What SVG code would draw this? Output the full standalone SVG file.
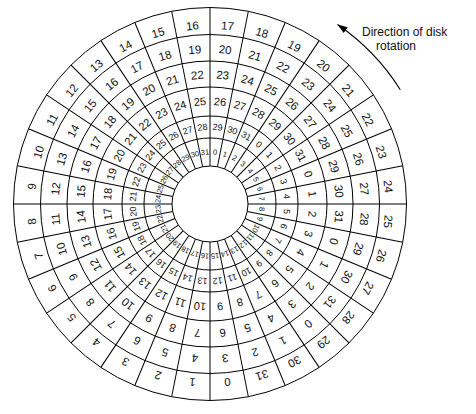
<svg xmlns="http://www.w3.org/2000/svg" width="476" height="414" viewBox="0 0 476 414">
<defs>
<style>
.ring{fill:none;stroke:#000;stroke-width:1}
.rad{stroke:#000;stroke-width:1}
text{font-family:"Liberation Sans",Arial,sans-serif;fill:#111;text-anchor:middle;dominant-baseline:central}
.a{font-size:11.5px}
.b{font-size:11px}
.c{font-size:9px}
.d{font-size:7.5px}
.lbl{font-size:12px;text-anchor:start;dominant-baseline:auto}
</style>
<marker id="ah" markerUnits="userSpaceOnUse" markerWidth="11" markerHeight="8" refX="10" refY="3.5" orient="auto">
<path d="M0,0 L10,3.5 L0,7 z" fill="#000"/>
</marker>
</defs>
<rect width="476" height="414" fill="#fff"/>
<g id="platter">
<circle class="ring" cx="210" cy="204" r="196.5" stroke-width="1.2"/>
<circle class="ring" cx="210" cy="204" r="169.5"/>
<circle class="ring" cx="210" cy="204" r="143"/>
<circle class="ring" cx="210" cy="204" r="117"/>
<circle class="ring" cx="210" cy="204" r="88"/>
<circle class="ring" cx="210" cy="204" r="66"/>
<circle class="ring" cx="210" cy="204" r="38"/>
</g>
<g id="connectors">
<line class="rad" x1="210" y1="166" x2="210" y2="7.5" transform="rotate(0 210 204)"/>
<line class="rad" x1="210" y1="166" x2="210" y2="7.5" transform="rotate(11.25 210 204)"/>
<line class="rad" x1="210" y1="166" x2="210" y2="7.5" transform="rotate(22.5 210 204)"/>
<line class="rad" x1="210" y1="166" x2="210" y2="7.5" transform="rotate(33.75 210 204)"/>
<line class="rad" x1="210" y1="166" x2="210" y2="7.5" transform="rotate(45 210 204)"/>
<line class="rad" x1="210" y1="166" x2="210" y2="7.5" transform="rotate(56.25 210 204)"/>
<line class="rad" x1="210" y1="166" x2="210" y2="7.5" transform="rotate(67.5 210 204)"/>
<line class="rad" x1="210" y1="166" x2="210" y2="7.5" transform="rotate(78.75 210 204)"/>
<line class="rad" x1="210" y1="166" x2="210" y2="7.5" transform="rotate(90 210 204)"/>
<line class="rad" x1="210" y1="166" x2="210" y2="7.5" transform="rotate(101.25 210 204)"/>
<line class="rad" x1="210" y1="166" x2="210" y2="7.5" transform="rotate(112.5 210 204)"/>
<line class="rad" x1="210" y1="166" x2="210" y2="7.5" transform="rotate(123.75 210 204)"/>
<line class="rad" x1="210" y1="166" x2="210" y2="7.5" transform="rotate(135 210 204)"/>
<line class="rad" x1="210" y1="166" x2="210" y2="7.5" transform="rotate(146.25 210 204)"/>
<line class="rad" x1="210" y1="166" x2="210" y2="7.5" transform="rotate(157.5 210 204)"/>
<line class="rad" x1="210" y1="166" x2="210" y2="7.5" transform="rotate(168.75 210 204)"/>
<line class="rad" x1="210" y1="166" x2="210" y2="7.5" transform="rotate(180 210 204)"/>
<line class="rad" x1="210" y1="166" x2="210" y2="7.5" transform="rotate(191.25 210 204)"/>
<line class="rad" x1="210" y1="166" x2="210" y2="7.5" transform="rotate(202.5 210 204)"/>
<line class="rad" x1="210" y1="166" x2="210" y2="7.5" transform="rotate(213.75 210 204)"/>
<line class="rad" x1="210" y1="166" x2="210" y2="7.5" transform="rotate(225 210 204)"/>
<line class="rad" x1="210" y1="166" x2="210" y2="7.5" transform="rotate(236.25 210 204)"/>
<line class="rad" x1="210" y1="166" x2="210" y2="7.5" transform="rotate(247.5 210 204)"/>
<line class="rad" x1="210" y1="166" x2="210" y2="7.5" transform="rotate(258.75 210 204)"/>
<line class="rad" x1="210" y1="166" x2="210" y2="7.5" transform="rotate(270 210 204)"/>
<line class="rad" x1="210" y1="166" x2="210" y2="7.5" transform="rotate(281.25 210 204)"/>
<line class="rad" x1="210" y1="166" x2="210" y2="7.5" transform="rotate(292.5 210 204)"/>
<line class="rad" x1="210" y1="166" x2="210" y2="7.5" transform="rotate(303.75 210 204)"/>
<line class="rad" x1="210" y1="166" x2="210" y2="7.5" transform="rotate(315 210 204)"/>
<line class="rad" x1="210" y1="166" x2="210" y2="7.5" transform="rotate(326.25 210 204)"/>
<line class="rad" x1="210" y1="166" x2="210" y2="7.5" transform="rotate(337.5 210 204)"/>
<line class="rad" x1="210" y1="166" x2="210" y2="7.5" transform="rotate(348.75 210 204)"/>
<path id="rotation-arrow" d="M400.3,89.7 A222,222 0 0 0 337.5,24.5" fill="none" stroke="#000" stroke-width="1.1" marker-end="url(#ah)"/>
</g>
<g id="sectors">
<g transform="rotate(5.625 210 204)"><text class="a" x="210" y="25">17</text><text class="a" x="210" y="49">20</text><text class="a" x="210" y="74.5">23</text><text class="b" x="210" y="101">26</text><text class="c" x="210" y="127">29</text><text class="d" x="210" y="152">0</text></g>
<g transform="rotate(16.875 210 204)"><text class="a" x="210" y="25">18</text><text class="a" x="210" y="49">21</text><text class="a" x="210" y="74.5">24</text><text class="b" x="210" y="101">27</text><text class="c" x="210" y="127">30</text><text class="d" x="210" y="152">1</text></g>
<g transform="rotate(28.125 210 204)"><text class="a" x="210" y="25">19</text><text class="a" x="210" y="49">22</text><text class="a" x="210" y="74.5">25</text><text class="b" x="210" y="101">28</text><text class="c" x="210" y="127">31</text><text class="d" x="210" y="152">2</text></g>
<g transform="rotate(39.375 210 204)"><text class="a" x="210" y="25">20</text><text class="a" x="210" y="49">23</text><text class="a" x="210" y="74.5">26</text><text class="b" x="210" y="101">29</text><text class="c" x="210" y="127">0</text><text class="d" x="210" y="152">3</text></g>
<g transform="rotate(50.625 210 204)"><text class="a" x="210" y="25">21</text><text class="a" x="210" y="49">24</text><text class="a" x="210" y="74.5">27</text><text class="b" x="210" y="101">30</text><text class="c" x="210" y="127">1</text><text class="d" x="210" y="152">4</text></g>
<g transform="rotate(61.875 210 204)"><text class="a" x="210" y="25">22</text><text class="a" x="210" y="49">25</text><text class="a" x="210" y="74.5">28</text><text class="b" x="210" y="101">31</text><text class="c" x="210" y="127">2</text><text class="d" x="210" y="152">5</text></g>
<g transform="rotate(73.125 210 204)"><text class="a" x="210" y="25">23</text><text class="a" x="210" y="49">26</text><text class="a" x="210" y="74.5">29</text><text class="b" x="210" y="101">0</text><text class="c" x="210" y="127">3</text><text class="d" x="210" y="152">6</text></g>
<g transform="rotate(84.375 210 204)"><text class="a" x="210" y="25">24</text><text class="a" x="210" y="49">27</text><text class="a" x="210" y="74.5">30</text><text class="b" x="210" y="101">1</text><text class="c" x="210" y="127">4</text><text class="d" x="210" y="152">7</text></g>
<g transform="rotate(95.625 210 204)"><text class="a" x="210" y="25">25</text><text class="a" x="210" y="49">28</text><text class="a" x="210" y="74.5">31</text><text class="b" x="210" y="101">2</text><text class="c" x="210" y="127">5</text><text class="d" x="210" y="152">8</text></g>
<g transform="rotate(106.875 210 204)"><text class="a" x="210" y="25">26</text><text class="a" x="210" y="49">29</text><text class="a" x="210" y="74.5">0</text><text class="b" x="210" y="101">3</text><text class="c" x="210" y="127">6</text><text class="d" x="210" y="152">9</text></g>
<g transform="rotate(118.125 210 204)"><text class="a" x="210" y="25">27</text><text class="a" x="210" y="49">30</text><text class="a" x="210" y="74.5">1</text><text class="b" x="210" y="101">4</text><text class="c" x="210" y="127">7</text><text class="d" x="210" y="152">10</text></g>
<g transform="rotate(129.375 210 204)"><text class="a" x="210" y="25">28</text><text class="a" x="210" y="49">31</text><text class="a" x="210" y="74.5">2</text><text class="b" x="210" y="101">5</text><text class="c" x="210" y="127">8</text><text class="d" x="210" y="152">11</text></g>
<g transform="rotate(140.625 210 204)"><text class="a" x="210" y="25">29</text><text class="a" x="210" y="49">0</text><text class="a" x="210" y="74.5">3</text><text class="b" x="210" y="101">6</text><text class="c" x="210" y="127">9</text><text class="d" x="210" y="152">12</text></g>
<g transform="rotate(151.875 210 204)"><text class="a" x="210" y="25">30</text><text class="a" x="210" y="49">1</text><text class="a" x="210" y="74.5">4</text><text class="b" x="210" y="101">7</text><text class="c" x="210" y="127">10</text><text class="d" x="210" y="152">13</text></g>
<g transform="rotate(163.125 210 204)"><text class="a" x="210" y="25">31</text><text class="a" x="210" y="49">2</text><text class="a" x="210" y="74.5">5</text><text class="b" x="210" y="101">8</text><text class="c" x="210" y="127">11</text><text class="d" x="210" y="152">14</text></g>
<g transform="rotate(174.375 210 204)"><text class="a" x="210" y="25">0</text><text class="a" x="210" y="49">3</text><text class="a" x="210" y="74.5">6</text><text class="b" x="210" y="101">9</text><text class="c" x="210" y="127">12</text><text class="d" x="210" y="152">15</text></g>
<g transform="rotate(185.625 210 204)"><text class="a" x="210" y="25">1</text><text class="a" x="210" y="49">4</text><text class="a" x="210" y="74.5">7</text><text class="b" x="210" y="101">10</text><text class="c" x="210" y="127">13</text><text class="d" x="210" y="152">16</text></g>
<g transform="rotate(196.875 210 204)"><text class="a" x="210" y="25">2</text><text class="a" x="210" y="49">5</text><text class="a" x="210" y="74.5">8</text><text class="b" x="210" y="101">11</text><text class="c" x="210" y="127">14</text><text class="d" x="210" y="152">17</text></g>
<g transform="rotate(208.125 210 204)"><text class="a" x="210" y="25">3</text><text class="a" x="210" y="49">6</text><text class="a" x="210" y="74.5">9</text><text class="b" x="210" y="101">12</text><text class="c" x="210" y="127">15</text><text class="d" x="210" y="152">18</text></g>
<g transform="rotate(219.375 210 204)"><text class="a" x="210" y="25">4</text><text class="a" x="210" y="49">7</text><text class="a" x="210" y="74.5">10</text><text class="b" x="210" y="101">13</text><text class="c" x="210" y="127">16</text><text class="d" x="210" y="152">19</text></g>
<g transform="rotate(230.625 210 204)"><text class="a" x="210" y="25">5</text><text class="a" x="210" y="49">8</text><text class="a" x="210" y="74.5">11</text><text class="b" x="210" y="101">14</text><text class="c" x="210" y="127">17</text><text class="d" x="210" y="152">20</text></g>
<g transform="rotate(241.875 210 204)"><text class="a" x="210" y="25">6</text><text class="a" x="210" y="49">9</text><text class="a" x="210" y="74.5">12</text><text class="b" x="210" y="101">15</text><text class="c" x="210" y="127">18</text><text class="d" x="210" y="152">21</text></g>
<g transform="rotate(253.125 210 204)"><text class="a" x="210" y="25">7</text><text class="a" x="210" y="49">10</text><text class="a" x="210" y="74.5">13</text><text class="b" x="210" y="101">16</text><text class="c" x="210" y="127">19</text><text class="d" x="210" y="152">22</text></g>
<g transform="rotate(264.375 210 204)"><text class="a" x="210" y="25">8</text><text class="a" x="210" y="49">11</text><text class="a" x="210" y="74.5">14</text><text class="b" x="210" y="101">17</text><text class="c" x="210" y="127">20</text><text class="d" x="210" y="152">23</text></g>
<g transform="rotate(275.625 210 204)"><text class="a" x="210" y="25">9</text><text class="a" x="210" y="49">12</text><text class="a" x="210" y="74.5">15</text><text class="b" x="210" y="101">18</text><text class="c" x="210" y="127">21</text><text class="d" x="210" y="152">24</text></g>
<g transform="rotate(286.875 210 204)"><text class="a" x="210" y="25">10</text><text class="a" x="210" y="49">13</text><text class="a" x="210" y="74.5">16</text><text class="b" x="210" y="101">19</text><text class="c" x="210" y="127">22</text><text class="d" x="210" y="152">25</text></g>
<g transform="rotate(298.125 210 204)"><text class="a" x="210" y="25">11</text><text class="a" x="210" y="49">14</text><text class="a" x="210" y="74.5">17</text><text class="b" x="210" y="101">20</text><text class="c" x="210" y="127">23</text><text class="d" x="210" y="152">26</text></g>
<g transform="rotate(309.375 210 204)"><text class="a" x="210" y="25">12</text><text class="a" x="210" y="49">15</text><text class="a" x="210" y="74.5">18</text><text class="b" x="210" y="101">21</text><text class="c" x="210" y="127">24</text><text class="d" x="210" y="152">27</text></g>
<g transform="rotate(320.625 210 204)"><text class="a" x="210" y="25">13</text><text class="a" x="210" y="49">16</text><text class="a" x="210" y="74.5">19</text><text class="b" x="210" y="101">22</text><text class="c" x="210" y="127">25</text><text class="d" x="210" y="152">28</text></g>
<g transform="rotate(331.875 210 204)"><text class="a" x="210" y="25">14</text><text class="a" x="210" y="49">17</text><text class="a" x="210" y="74.5">20</text><text class="b" x="210" y="101">23</text><text class="c" x="210" y="127">26</text><text class="d" x="210" y="152">29</text></g>
<g transform="rotate(343.125 210 204)"><text class="a" x="210" y="25">15</text><text class="a" x="210" y="49">18</text><text class="a" x="210" y="74.5">21</text><text class="b" x="210" y="101">24</text><text class="c" x="210" y="127">27</text><text class="d" x="210" y="152">30</text></g>
<g transform="rotate(354.375 210 204)"><text class="a" x="210" y="25">16</text><text class="a" x="210" y="49">19</text><text class="a" x="210" y="74.5">22</text><text class="b" x="210" y="101">25</text><text class="c" x="210" y="127">28</text><text class="d" x="210" y="152">31</text></g>
</g>
<g id="caption">
<text class="lbl" x="362" y="36">Direction of disk</text>
<text class="lbl" x="376" y="49.5">rotation</text>
</g>
</svg>
